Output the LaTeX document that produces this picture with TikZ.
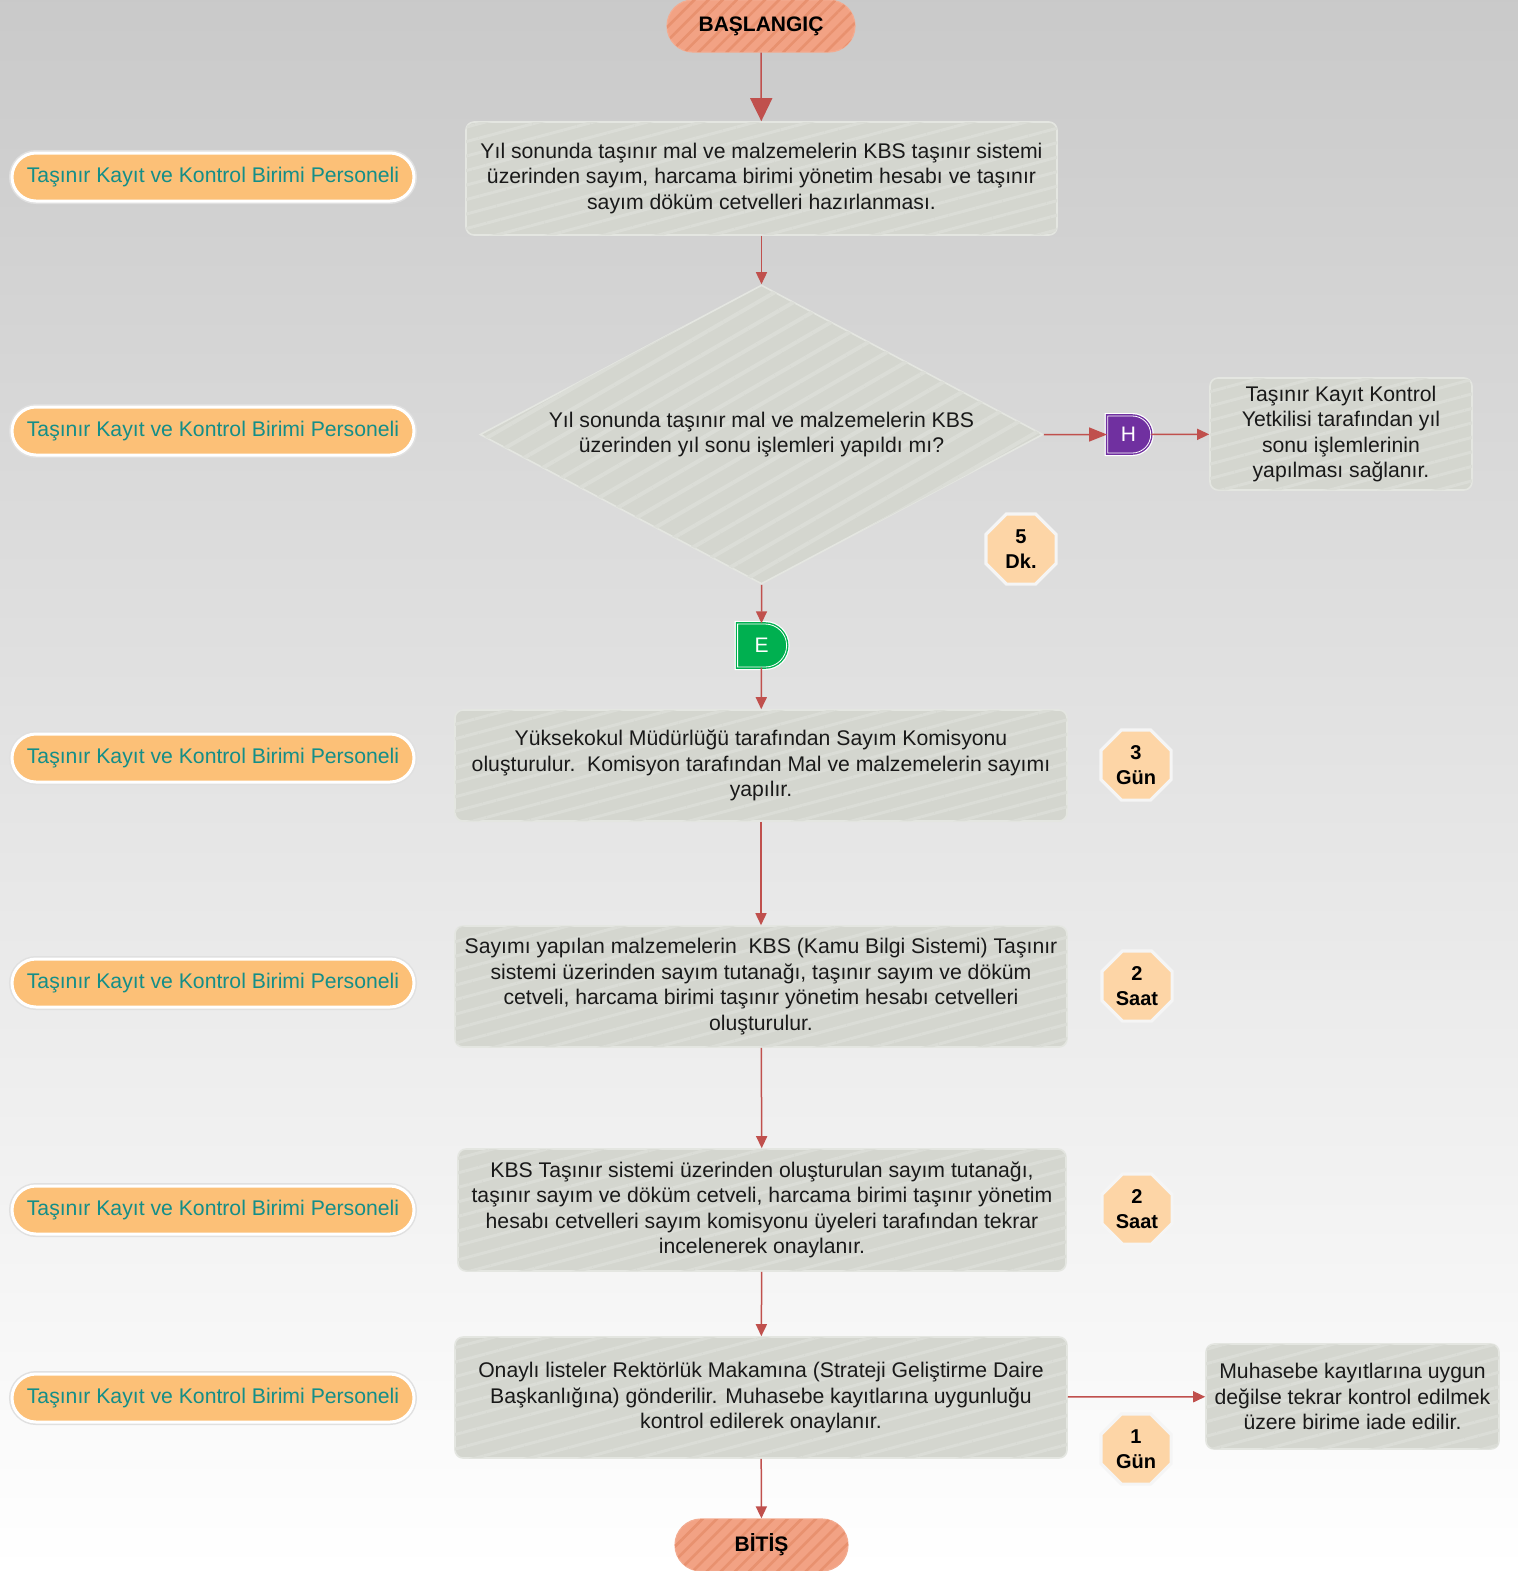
\documentclass[tikz,border=0pt]{standalone}
\usepackage{fontspec}
\setmainfont{Liberation Sans}
\usetikzlibrary{shapes.geometric,shapes.misc,arrows.meta,patterns.meta}
\definecolor{boxfill}{HTML}{D4D6CF}
\definecolor{boxline}{HTML}{E4E6E1}
\definecolor{stripe}{HTML}{DBDDD7}
\definecolor{termfill}{HTML}{F2A284}
\definecolor{termstripe}{HTML}{E8916F}
\definecolor{pillfill}{HTML}{FCC077}
\definecolor{pilltext}{HTML}{148E88}
\definecolor{flow}{HTML}{C0504D}
\definecolor{octfill}{HTML}{FDD5A6}
\definecolor{hcol}{HTML}{7030A0}
\definecolor{ecol}{HTML}{00B050}
\tikzset{
  txt/.style={font=\fontsize{10.6}{12.75}\selectfont, text=black!90},
  stepbox/.style={txt, rectangle, rounded corners=4pt, fill=boxfill, draw=boxline, line width=0.8pt,
    align=center, inner sep=0pt,
    postaction={pattern={Lines[angle=15,distance=7pt,line width=1.5pt]}, pattern color=stripe}},
  decide/.style={txt, diamond, aspect=1.88, fill=boxfill, draw=boxline, line width=0.8pt,
    align=center, inner sep=0pt, minimum width=281.5pt, minimum height=149.5pt,
    postaction={pattern={Lines[angle=30,distance=9pt,line width=2pt]}, pattern color=stripe}},
  terminal/.style={rounded rectangle, fill=termfill, draw=termfill!90!white, line width=0.6pt,
    font=\fontsize{10.5}{12}\selectfont\bfseries, minimum height=26pt, inner sep=0pt,
    postaction={pattern={Lines[angle=45,distance=5pt,line width=1.3pt]}, pattern color=termstripe}},
  role/.style={txt, rounded rectangle, fill=pillfill, text=pilltext, minimum height=24pt,
    minimum width=201pt, inner sep=0pt, draw=white, line width=1.5pt,
    preaction={draw=black!12, line width=3pt}},
  timing/.style={regular polygon, regular polygon sides=8, fill=octfill, draw=white!96!black,
    line width=1.6pt, minimum size=38pt, inner sep=0pt, align=center,
    font=\fontsize{10}{12.75}\selectfont\bfseries},
  jump/.style={rounded rectangle, rounded rectangle left arc=none, draw=#1, double=white,
    double distance=0.4pt, line width=0.7pt, fill=#1, text=white, inner sep=0pt,
    font=\fontsize{10.5}{12}\selectfont, preaction={draw=white, line width=3pt}},
  flowline/.style={draw=flow, line width=0.75pt, -{Triangle[length=6pt,width=5.5pt]}}
}
\begin{document}
\begin{tikzpicture}[x=0.5pt,y=-0.5pt]
\useasboundingbox (0,0) rectangle (1518,1571);
\shade[top color=black!21, bottom color=white] (0,0) rectangle (1518,1571);
\node[terminal, minimum width=94pt] (start) at (761,26) {BAŞLANGIÇ};
\node[stepbox, minimum width=295.5pt, minimum height=56.5pt] (count) at (761.5,178.5)
  {Yıl sonunda taşınır mal ve malzemelerin KBS taşınır sistemi\\üzerinden sayım, harcama birimi yönetim hesabı ve taşınır\\sayım döküm cetvelleri hazırlanması.};
\node[decide] (check) at (761.5,434.5)
  {Yıl sonunda taşınır mal ve malzemelerin KBS\\üzerinden yıl sonu işlemleri yapıldı mı?};
\node[jump=hcol, minimum width=21.5pt, minimum height=18.5pt] (hayir) at (1128.5,434.5) {H};
\node[stepbox, minimum width=131pt, minimum height=56pt] (yetkili) at (1341,434)
  {Taşınır Kayıt Kontrol\\Yetkilisi tarafından yıl\\sonu işlemlerinin\\yapılması sağlanır.};
\node[jump=ecol, minimum width=24.5pt, minimum height=21.5pt] (evet) at (761.5,645.5) {E};
\node[stepbox, minimum width=306pt, minimum height=55.5pt] (komisyon) at (761,765.5)
  {Yüksekokul Müdürlüğü tarafından Sayım Komisyonu\\oluşturulur.\ \ Komisyon tarafından Mal ve malzemelerin sayımı\\yapılır.};
\node[stepbox, minimum width=306pt, minimum height=60.5pt] (tutanak) at (761,986.5)
  {Sayımı yapılan malzemelerin\ \ KBS (Kamu Bilgi Sistemi) Taşınır\\sistemi üzerinden sayım tutanağı, taşınır sayım ve döküm\\cetveli, harcama birimi taşınır yönetim hesabı cetvelleri\\oluşturulur.};
\node[stepbox, minimum width=304pt, minimum height=61pt] (onay) at (762,1210)
  {KBS Taşınır sistemi üzerinden oluşturulan sayım tutanağı,\\taşınır sayım ve döküm cetveli, harcama birimi taşınır yönetim\\hesabı cetvelleri sayım komisyonu üyeleri tarafından tekrar\\incelenerek onaylanır.};
\node[stepbox, minimum width=306pt, minimum height=60.5pt] (rektorluk) at (761,1397.5)
  {Onaylı listeler Rektörlük Makamına (Strateji Geliştirme Daire\\Başkanlığına) gönderilir. Muhasebe kayıtlarına uygunluğu\\kontrol edilerek onaylanır.};
\node[stepbox, minimum width=146.5pt, minimum height=52.5pt] (iade) at (1352.5,1396.5)
  {Muhasebe kayıtlarına uygun\\değilse tekrar kontrol edilmek\\üzere birime iade edilir.};
\node[terminal, minimum width=86.5pt] (finish) at (761.5,1545) {BİTİŞ};
\foreach \y [count=\i] in {177,431,758,983,1210,1398}
  \node[role] (role\i) at (213,\y) {Taşınır Kayıt ve Kontrol Birimi Personeli};
\node[timing] (t1) at (1021,549) {5\\Dk.};
\node[timing] (t2) at (1136,765) {3\\Gün};
\node[timing] (t3) at (1137,986) {2\\Saat};
\node[timing] (t4) at (1137,1209) {2\\Saat};
\node[timing] (t5) at (1136,1449) {1\\Gün};
\draw[flowline, -{Triangle[length=11.5pt,width=11pt]}] (start) -- (count);
\draw[flowline] (count) -- (check);
\draw[flowline, -{Triangle[length=9pt,width=7pt]}] (check) -- (hayir);
\draw[flowline] (hayir) -- (yetkili);
\draw[flowline] (check) -- (evet);
\draw[flowline] (evet) -- (komisyon);
\draw[flowline] (komisyon) -- (tutanak);
\draw[flowline] (tutanak) -- (onay);
\draw[flowline] (onay) -- (rektorluk);
\draw[flowline] (rektorluk) -- (iade);
\draw[flowline] (rektorluk) -- (finish);
\end{tikzpicture}
\end{document}
